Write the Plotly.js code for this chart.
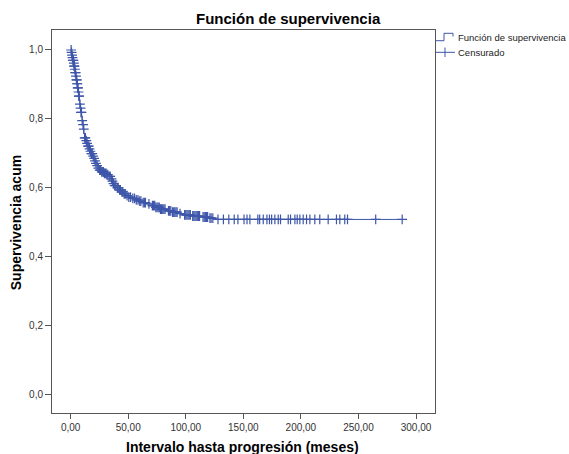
<!DOCTYPE html>
<html>
<head>
<meta charset="utf-8">
<script src="https://cdn.plot.ly/plotly-3.0.1.min.js"></script>
<style>html,body{margin:0;padding:0;background:#fff;}#chart{width:569px;height:454px;}</style>
</head>
<body>
<div id="chart"></div>
<script>
// Kaplan-Meier step values
var eventTimes = [0, 0.5, 1, 1.5, 2, 2.5, 3, 3.5, 4, 4.5, 5, 5.5, 6, 6.5, 7, 7.5, 8, 8.5, 9, 9.5, 10, 10.5, 11, 11.5, 12, 13, 14, 15, 16, 17, 18, 19, 20, 21, 22, 23, 24, 25, 27, 29, 31, 33, 35, 36, 37, 38, 40, 42, 44, 46, 48, 50, 53, 56, 59, 62, 66, 70, 74, 78, 83, 88, 93, 98, 105, 113, 120, 126];
var survival = [1.0, 0.993, 0.985, 0.978, 0.970, 0.962, 0.953, 0.944, 0.934, 0.924, 0.913, 0.902, 0.890, 0.878, 0.866, 0.855, 0.843, 0.831, 0.819, 0.807, 0.795, 0.783, 0.770, 0.757, 0.745, 0.737, 0.729, 0.721, 0.713, 0.706, 0.699, 0.692, 0.685, 0.678, 0.671, 0.664, 0.657, 0.651, 0.646, 0.642, 0.638, 0.633, 0.626, 0.619, 0.612, 0.606, 0.600, 0.594, 0.588, 0.582, 0.577, 0.573, 0.569, 0.565, 0.561, 0.557, 0.553, 0.548, 0.543, 0.538, 0.533, 0.529, 0.525, 0.521, 0.518, 0.515, 0.512, 0.508];
var censoredTimes = [0.4, 0.8, 1.2, 1.6, 2.0, 2.4, 2.8, 3.0, 3.3, 3.7, 4.0, 4.3, 4.6, 5.0, 5.3, 5.6, 5.8, 6.1, 6.4, 6.8, 7.1, 7.4, 8.0, 8.6, 9.0, 9.4, 10.0, 10.8, 11.4, 12.2, 12.8, 13.6, 14.3, 15.0, 15.8, 16.4, 17.2, 18.0, 18.8, 19.6, 20.4, 21.2, 22.0, 23.0, 24.0, 25.2, 26.0, 27.0, 28.0, 28.5, 29.3, 30.0, 30.8, 31.5, 32.3, 33.5, 34.3, 35.5, 36.3, 37.2, 38.3, 39.2, 40.5, 41.3, 42.5, 43.2, 44.5, 45.3, 46.5, 47.5, 49.0, 50.5, 52.0, 54.0, 55.5, 57.0, 58.5, 60.0, 61.0, 63.0, 64.0, 65.0, 68.0, 71.0, 72.0, 73.0, 74.0, 75.0, 76.0, 77.0, 78.0, 79.0, 80.0, 81.0, 82.0, 85.0, 86.0, 87.0, 88.5, 89.5, 90.5, 91.5, 92.5, 95.0, 99.0, 100.0, 101.0, 102.0, 103.0, 104.0, 106.0, 107.0, 108.0, 109.0, 110.0, 111.0, 112.0, 115.0, 116.0, 117.0, 118.0, 119.0, 121.0, 122.0, 123.5, 128, 132.7, 137.4, 142.1, 145.3, 150.6, 153.2, 155.7, 162.6, 164.2, 167.3, 170.5, 172.7, 174.6, 177.4, 180.3, 182.3, 189, 191, 194.8, 196.8, 199.1, 202, 204.9, 207.8, 212.1, 216.4, 223.7, 230.9, 233.8, 238.1, 240.5, 265, 288];
var xTicks = [0, 50, 100, 150, 200, 250, 300];
var yTicks = [0, 0.2, 0.4, 0.6, 0.8, 1.0];

// survival value at a censored time, looked up from the step function
function survAt(t) {
  var s = survival[0];
  for (var i = 0; i < eventTimes.length; i++) { if (eventTimes[i] <= t) s = survival[i]; }
  return s;
}
var censoredSurv = censoredTimes.map(survAt);
var lastT = censoredTimes[censoredTimes.length - 1];
var stepX = eventTimes.concat([lastT]);
var stepY = survival.concat([survival[survival.length - 1]]);

var blue = '#3d56a9';
var FONT = 'Liberation Sans, Arial, sans-serif';
var W = 569, H = 454, L = 52, R = 435, T = 30, B = 412.7;
function px(x) { return (x - L) / (R - L); }
function py(y) { return (B - y) / (B - T); }

var traces = [
  { x: stepX, y: stepY, mode: 'lines', line: { shape: 'hv', color: blue, width: 1 }, showlegend: false, hoverinfo: 'skip' },
  { x: censoredTimes, y: censoredSurv, mode: 'markers', marker: { symbol: 'cross-thin', size: 7, line: { color: blue, width: 1.2 }, color: blue }, showlegend: false }
];

var lineC = '#555555';
var layout = {
  width: W, height: H,
  margin: { l: L, r: W - R, t: T, b: H - B, pad: 0 },
  paper_bgcolor: '#ffffff', plot_bgcolor: '#ffffff',
  separators: ',.',
  font: { family: FONT, size: 10, color: '#333333' },
  showlegend: false,
  xaxis: {
    range: [-16.2, 316.5], tickvals: xTicks, tickformat: '.2f',
    ticks: 'outside', ticklen: 5, tickwidth: 1, tickcolor: lineC,
    showline: true, mirror: true, linecolor: lineC, linewidth: 1,
    showgrid: false, zeroline: false, tickfont: { size: 10, color: '#333' }
  },
  yaxis: {
    range: [-0.054, 1.058], tickvals: yTicks, tickformat: '.1f',
    ticks: 'outside', ticklen: 6, tickwidth: 1, tickcolor: lineC,
    showline: true, mirror: true, linecolor: lineC, linewidth: 1,
    showgrid: false, zeroline: false, tickfont: { size: 10, color: '#333' }
  },
  annotations: [
    { text: '<b>Función de supervivencia</b>', xref: 'paper', yref: 'paper', x: px(288), y: py(19), xanchor: 'center', yanchor: 'middle', showarrow: false, font: { family: FONT, size: 15, color: '#000' } },
    { text: '<b>Supervivencia acum</b>', xref: 'paper', yref: 'paper', x: px(15.6), y: py(222.5), textangle: -90, xanchor: 'center', yanchor: 'middle', showarrow: false, font: { family: FONT, size: 14, color: '#000' } },
    { text: '<b>Intervalo hasta progresión (meses)</b>', xref: 'paper', yref: 'paper', x: px(242), y: py(446.5), xanchor: 'center', yanchor: 'middle', showarrow: false, font: { family: FONT, size: 14, color: '#000' } },
    { text: 'Función de supervivencia', xref: 'paper', yref: 'paper', x: px(455.5), y: py(37.5), xanchor: 'left', yanchor: 'middle', showarrow: false, font: { family: FONT, size: 9.5, color: '#222' } },
    { text: 'Censurado', xref: 'paper', yref: 'paper', x: px(455.5), y: py(52.5), xanchor: 'left', yanchor: 'middle', showarrow: false, font: { family: FONT, size: 9.5, color: '#222' } }
  ],
  shapes: [
    { type: 'path', xref: 'paper', yref: 'paper', path: 'M ' + px(436) + ',' + py(40.7) + ' H ' + px(444) + ' V ' + py(33.3) + ' H ' + px(453) + ' V ' + py(36.5), line: { color: blue, width: 1 } },
    { type: 'line', xref: 'paper', yref: 'paper', x0: px(436), x1: px(455), y0: py(52.3), y1: py(52.3), line: { color: blue, width: 1 } },
    { type: 'line', xref: 'paper', yref: 'paper', x0: px(445), x1: px(445), y0: py(47.5), y1: py(57), line: { color: blue, width: 1 } }
  ]
};

Plotly.newPlot('chart', traces, layout, { displayModeBar: false, staticPlot: true });
</script>
</body>
</html>
